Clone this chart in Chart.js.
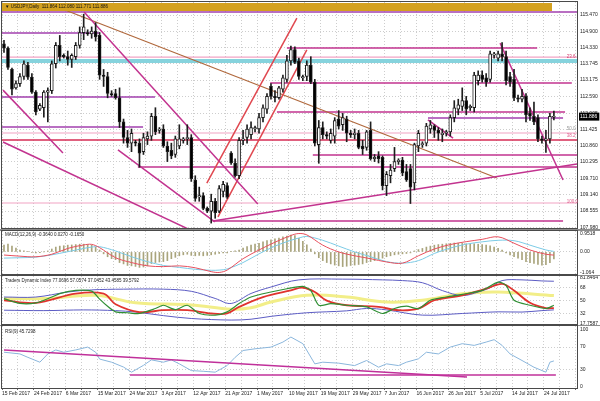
<!DOCTYPE html>
<html><head><meta charset="utf-8">
<script src="https://cdn.jsdelivr.net/npm/chart.js@4.4.1/dist/chart.umd.min.js"></script>
<style>
html,body{margin:0;padding:0;background:#fff;width:600px;height:401px;overflow:hidden}
canvas{position:absolute;left:0}
</style></head><body>
<canvas id="cMain" width="600" height="229" style="top:0px"></canvas>
<canvas id="cMacd" width="600" height="46" style="top:229px"></canvas>
<canvas id="cTdi" width="600" height="50" style="top:275px"></canvas>
<canvas id="cRsi" width="600" height="76" style="top:325px"></canvas>
<script>
// ---------- DATA ----------
const tickLabels = ['15 Feb 2017','24 Feb 2017','6 Mar 2017','15 Mar 2017','24 Mar 2017','3 Apr 2017','12 Apr 2017','21 Apr 2017','1 May 2017','10 May 2017','19 May 2017','29 May 2017','7 Jun 2017','16 Jun 2017','26 Jun 2017','5 Jul 2017','14 Jul 2017','24 Jul 2017'];

const openP = [114.45,114.30,113.55,112.90,113.05,113.30,113.70,113.28,112.75,112.15,
112.20,112.75,112.80,113.75,114.40,114.05,114.00,113.90,114.00,114.40,
114.85,114.85,114.80,114.90,114.75,113.35,113.30,112.70,112.70,112.55,
111.70,111.15,110.95,111.00,110.95,110.65,111.10,111.20,111.90,111.40,
111.45,110.85,110.70,110.55,110.85,111.05,111.10,111.15,109.65,109.05,
109.10,108.65,108.55,108.90,108.55,109.25,109.45,110.60,110.25,109.80,
111.05,111.15,111.25,111.45,111.45,111.85,112.15,112.95,112.60,112.55,
112.85,113.20,113.85,114.25,113.85,113.25,113.30,113.70,113.10,110.90,
111.50,111.25,111.05,111.20,111.80,111.60,111.80,111.30,111.25,111.30,
110.85,110.80,111.40,110.40,110.50,110.45,109.45,109.80,110.05,110.30,
110.35,109.95,110.05,109.55,110.85,110.90,110.95,111.45,111.55,111.40,
111.25,111.30,111.35,111.85,112.15,112.25,112.45,112.20,112.20,113.15,
113.35,113.25,113.20,114.05,113.95,114.10,114.00,113.30,113.20,112.55,
112.50,112.60,112.00,111.90,111.85,111.10,111.05,111.10,111.864];
const highP = [114.58,114.35,113.60,113.15,113.40,113.85,113.80,113.40,112.80,112.35,
112.80,112.90,113.85,114.50,114.75,114.10,114.20,114.10,114.50,115.05,
115.50,114.95,115.05,115.20,114.85,113.55,113.45,112.80,112.85,112.90,
111.80,111.40,111.45,111.05,111.10,111.30,111.35,112.00,112.20,111.50,
111.60,111.00,110.95,111.20,111.60,111.15,111.60,111.25,109.80,109.40,
109.20,108.70,109.15,109.00,109.45,109.60,109.55,110.65,110.40,111.15,
111.40,111.60,111.70,111.55,112.00,112.30,112.70,113.05,112.80,112.95,
113.35,114.05,114.37,114.35,113.95,113.35,113.85,114.00,113.20,111.75,
111.70,111.35,111.45,111.85,112.10,112.00,111.90,111.40,111.45,111.40,
111.05,111.40,111.70,110.55,110.65,110.50,109.95,110.20,110.80,110.40,
110.45,110.20,110.20,110.95,111.40,111.00,111.65,111.75,111.60,111.50,
111.45,111.40,111.95,112.45,112.50,112.90,112.60,112.30,113.45,113.50,
113.50,113.40,114.20,114.15,114.20,114.50,114.20,113.45,113.55,112.65,
112.85,112.70,112.20,112.40,111.95,111.20,111.40,112.00,112.080];
const lowP = [114.15,113.55,112.65,112.85,112.95,113.20,113.20,112.70,111.95,112.10,
111.87,111.70,112.70,113.60,113.85,113.95,113.70,113.62,113.90,114.30,
114.60,114.75,114.65,114.55,113.20,112.95,112.55,112.60,112.50,111.50,
110.95,110.80,110.65,110.85,110.10,110.55,110.90,111.05,111.25,111.30,
110.80,110.30,110.40,110.45,110.75,110.95,110.90,109.60,108.90,108.90,
108.60,108.50,108.13,108.30,108.50,109.05,109.00,110.20,109.75,109.70,
110.90,110.95,111.10,111.35,111.30,111.70,112.00,112.50,112.40,112.50,
112.75,113.10,113.70,113.75,113.20,113.15,113.15,113.05,110.85,110.24,
111.10,111.10,110.95,110.95,111.45,111.40,111.00,111.15,111.10,110.75,
110.55,110.70,110.35,110.30,110.25,109.30,109.10,109.55,109.95,110.20,
109.80,109.60,108.82,109.30,110.65,110.80,110.85,111.30,111.15,111.05,
111.00,111.20,111.20,111.70,111.95,112.10,111.95,112.10,112.05,113.00,
113.10,112.95,113.10,113.95,113.85,113.85,113.00,112.95,112.45,112.40,
112.40,111.70,111.75,111.60,111.00,110.95,110.62,110.95,111.771];
const closeP = [114.30,113.62,112.85,113.05,113.30,113.75,113.28,112.75,112.05,112.28,
112.75,112.80,113.75,114.40,114.00,114.00,113.90,114.05,114.40,114.85,
115.05,114.80,114.90,114.70,113.35,113.30,112.70,112.65,112.55,111.70,
111.15,110.95,111.30,110.95,110.60,111.15,111.20,111.90,111.35,111.45,
110.85,110.65,110.50,111.10,111.10,111.10,111.15,109.70,109.00,109.10,
108.65,108.55,108.90,108.50,109.35,109.50,109.05,110.25,109.80,111.05,
111.10,111.45,111.50,111.50,111.85,112.20,112.60,112.60,112.55,112.90,
113.25,113.85,114.25,113.80,113.30,113.30,113.70,113.10,110.95,111.50,
111.25,111.20,111.30,111.75,111.55,111.85,111.30,111.25,111.30,110.80,
110.75,111.35,110.40,110.45,110.40,109.45,109.85,110.00,110.30,110.35,
109.90,109.65,109.40,110.90,111.30,110.90,111.55,111.60,111.40,111.30,
111.30,111.35,111.85,112.20,112.30,112.45,112.15,112.25,113.35,113.35,
113.20,113.10,114.10,114.10,114.10,114.00,113.15,113.10,112.55,112.50,
112.60,111.95,111.90,111.70,111.10,111.05,111.10,111.90,111.886];

const currentPrice = 111.886;
const mainTickVals = [115.470,114.900,114.330,113.745,113.175,112.590,112.005,111.425,110.860,110.295,109.710,109.140,108.555,107.980];

// drawn levels: [price, fromBar, toBar]
const purpleLevels = [[115.576,-0.5,143.8],[114.835,-0.5,24.1],[112.578,-0.5,37.9],[111.837,106.4,140.3],[111.519,-0.5,34.9]];
const magentaLevels = [[114.306,71.0,133.8],[113.071,66.8,142.5],[112.048,68.5,140.8],[110.532,77.5,143.8],[110.109,33.6,143.8],[108.204,52.4,140.3]];
const pinkLevels = [[113.988,-0.5,143.8],[111.308,-0.5,143.8],[108.839,-0.5,143.8]];
const cyanLevels = [[113.883,-0.5,143.8],[113.812,-0.5,143.8]];
const crimsonLevels = [[111.060,-0.5,143.8]];
// trend lines: [bar1, price1, bar2, price2]
const magentaTrends = [[52.4,108.204,143.8,110.214],[-0.25,112.82,14.8,110.60],[-0.25,110.99,46.7,107.89],[20.1,115.576,63.7,108.80],[28.6,110.71,52.9,108.17],[124.5,114.48,140.3,109.65],[106.4,111.77,112.7,111.13]];
const redTrends = [[50.9,109.54,73.5,115.36],[53.7,108.35,76.0,114.24]];
const brownTrends = [[15.3,115.646,123.7,109.72]];
const fibText = ['23.6','50.0','38.2','100.0'];
const fibPrice = [113.99,111.45,111.20,108.87];

// MACD
const macdHist = [0.35,0.40,0.30,0.20,0.10,0.05,0.02,-0.03,-0.05,-0.04,0.00,
0.05,0.15,0.25,0.30,0.32,0.35,0.36,0.38,0.40,0.40,0.38,0.35,0.25,0.10,
-0.10,-0.25,-0.35,-0.40,-0.55,-0.62,-0.70,-0.72,-0.75,-0.80,-0.78,-0.72,-0.60,-0.55,-0.52,-0.50,-0.45,-0.35,-0.28,-0.20,
-0.15,-0.12,-0.18,-0.20,-0.18,-0.20,-0.18,-0.15,-0.12,-0.08,-0.05,-0.05,0.02,0.05,
0.10,0.20,0.28,0.35,0.40,0.45,0.52,0.58,0.62,0.68,0.72,0.78,0.82,0.87,0.85,0.70,0.55,0.36,
0.15,-0.10,-0.30,-0.45,-0.55,-0.62,-0.68,-0.72,-0.76,-0.74,-0.70,-0.68,-0.65,-0.62,-0.55,-0.50,-0.45,-0.40,-0.32,
-0.25,-0.20,-0.15,-0.12,-0.10,-0.08,-0.05,
0.05,0.12,0.18,0.25,0.30,0.35,0.38,0.40,0.42,0.44,0.46,0.45,0.44,0.42,0.40,0.42,0.40,0.38,0.35,0.32,0.25,0.18,0.10,
-0.05,-0.15,-0.25,-0.32,-0.40,-0.50,-0.55,-0.60,-0.65,-0.68,-0.66,-0.55,-0.36];
const macdIdx = [0,4,8,12,16,20,22,24,28,32,36,40,44,48,52,54,56,60,64,68,72,74,76,80,84,88,92,96,100,104,108,112,116,120,124,128,132,136,138];
const macdMain = [-0.16,-0.22,-0.25,-0.12,0.18,0.36,0.39,0.22,-0.30,-0.55,-0.72,-0.76,-0.72,-0.82,-1.02,-1.06,-0.94,-0.35,0.10,0.50,0.85,0.95,0.88,0.35,0.00,-0.20,-0.35,-0.52,-0.58,-0.20,0.15,0.38,0.53,0.65,0.78,0.45,0.10,-0.12,-0.165];
const macdSignal = [-0.32,-0.30,-0.27,-0.15,0.01,0.18,0.25,0.27,0.05,-0.25,-0.50,-0.70,-0.80,-0.90,-0.95,-0.94,-0.88,-0.55,-0.10,0.30,0.60,0.72,0.80,0.60,0.30,0.00,-0.25,-0.50,-0.58,-0.45,-0.08,0.20,0.40,0.52,0.60,0.58,0.35,0.10,0.027];
const macdTickVals = [0.9518,0,-1.064];
const macdTickText = ['0.9518','0.00','-1.064'];

// Traders Dynamic Index
const tdiGreenIdx = [0,4,8,12,14,18,22,24,26,28,31,34,38,40,43,46,49,53,56,59,62,67,71,75,77,79,82,86,91,95,98,101,104,107,111,115,120,124,126,128,132,136,138];
const tdiGreen = [52.8,46,46.8,55,59.7,64.3,63.3,52,42,34.3,33,32,38.9,43.5,37.5,43.5,32,29.7,34.3,45.8,55,62,66.6,69.8,64,43.5,45.8,43.5,41.2,32,38.9,42.2,38.9,50.5,55,58.8,64.3,75.8,71.2,50.5,43.5,39,43.46];
const tdiRedIdx = [0,8,18,25,28,34,40,46,52,56,59,65,72,75,78,81,86,94,99,104,108,115,121,125,128,132,136,138];
const tdiRed = [50.5,46.8,59.7,59.7,45,34,36.6,36.6,32,32,41.2,55,64.3,68,62,50,43.5,41.2,36.6,38.9,50.5,57.4,66.6,73.5,64,47,39.5,39.58];
const tdiUpIdx = [0,8,16,22,30,40,47,53,57,62,67,74,85,95,100,105,110,115,119,122,125,130,135,138];
const tdiUp = [55,55,62,65,66,66,63,53,46,60,69,79,80,79,78,75,64,57,62,68,78,79,77.5,77.07];
const tdiLowIdx = [0,10,20,28,33,40,47,57,62,67,76,86,91,96,105,115,124,130,135,138];
const tdiLow = [36.6,36,37,36,34,29,25,22.8,24,28,33,35.7,39,37,29.7,32,34.3,34,36,37.05];
const tdiBaseIdx = [0,10,23,33,47,57,62,67,76,86,96,105,115,124,138];
const tdiBase = [52.8,52.8,57.4,47,44,38,40,48,57.4,55,48,50.5,59.7,62,57.06];
const tdiTickVals = [81.8464,68,50,32,17.7587];
const tdiTickText = ['81.8464','68','50','32','17.7587'];

// RSI
const rsiIdx = [0,4,6,9,11,13,15,18,21,23,24,27,30,32,35,37,40,42,44,47,50,53,56,58,60,63,67,70,72,75,78,80,84,88,91,94,96,99,101,104,106,109,112,115,118,121,123,125,127,130,133,136,137,138];
const rsiVal = [61,58,52,43.5,58,65,61,65,70,61,49,43.5,35,26,38,47.6,43.5,47.6,40.6,28.8,27.6,26,37.6,52,64,67,70,78.8,87.6,76,40.6,43.5,41.8,37.6,46.5,34.7,40.6,37.6,43.5,49.4,61,58,70,76,73,78.8,83,73,58,46.5,34.7,26,43.5,45.73];
const rsiTrends = [[0,64.9,116.2,17.5],[31.6,21.1,138.5,21.1]];
const rsiTickVals = [100,70,30,0];
const rsiTickText = ['100','70','30','0'];

// ---------- RENDERING ----------
const FONT = "'Liberation Sans', 'DejaVu Sans', Arial, sans-serif";
const X_MIN = -0.5, X_MAX = 143.8, GRID_STEP = 4;
const GRID_COLOR = '#cdcdcd';
const candleIdx = openP.map((_, i) => i);
const pts = (idx, vals) => idx.map((x, k) => ({x, y: vals[k]}));

function xAxis(show) {
  return {
    type: 'linear', min: X_MIN, max: X_MAX, offset: false,
    afterBuildTicks: s => { const t = []; for (let v = X_MIN; v <= X_MAX + 1e-9; v += GRID_STEP) t.push({value: v}); s.ticks = t; },
    afterFit: s => { s.height = show ? 13 : 0; s.paddingLeft = 0; s.paddingRight = 0; s.paddingTop = 0; s.paddingBottom = 0; },
    grid: { offset: false, color: GRID_COLOR, lineWidth: 1, drawTicks: show, tickLength: 2, tickColor: '#666' },
    border: { display: false, dash: [1, 2] },
    ticks: { display: show, autoSkip: false, maxRotation: 0, minRotation: 0, align: 'start', padding: 1, color: '#222',
      font: { family: FONT, size: 5 },
      callback: (v, k) => (k % 2 === 0 && tickLabels[k / 2]) ? tickLabels[k / 2] : '' }
  };
}
function yAxis(min, max, vals, texts, gridVals, special) {
  const isSp = c => special && c.tick && c.tick.value === special;
  return {
    type: 'linear', position: 'right', min, max,
    afterBuildTicks: s => { s.ticks = vals.map(v => ({value: v})); },
    afterFit: s => { s.width = 23; s.paddingTop = 0; s.paddingBottom = 0; s.paddingLeft = 0; s.paddingRight = 0; },
    grid: { drawTicks: false, lineWidth: 1, color: c => (c.tick && gridVals.includes(c.tick.value)) ? GRID_COLOR : 'rgba(0,0,0,0)' },
    border: { display: false, dash: [1, 2] },
    ticks: { autoSkip: false, padding: 3, font: { family: FONT, size: 5 },
      color: c => isSp(c) ? '#ffffff' : '#222',
      showLabelBackdrop: c => isSp(c),
      backdropColor: '#000', backdropPadding: { top: 1, bottom: 1, left: 1, right: 2 },
      callback: (v, k) => texts[k] }
  };
}
function makeDeco(cfg) {
  return {
    id: 'deco',
    afterDraw(chart) {
      const {ctx, chartArea: a} = chart;
      ctx.save();
      if (cfg.sep) { ctx.fillStyle = '#8c8c8c'; ctx.fillRect(0, 0, chart.width, cfg.sep); }
      ctx.strokeStyle = '#4a4a4a'; ctx.lineWidth = 1;
      ctx.strokeRect(a.left - 0.5, a.top - 0.5, a.right - a.left + 1, a.bottom - a.top + 1);
      ctx.textBaseline = 'middle'; ctx.textAlign = 'left';
      ctx.font = '4.5px ' + FONT;
      if (cfg.header) {
        ctx.fillStyle = '#d4a11f';
        ctx.fillRect(a.left, 3, 550, 8);
        ctx.fillStyle = '#111';
        ctx.fillText(cfg.header, a.left + 3, 7);
      }
      if (cfg.label) { ctx.fillStyle = '#222'; ctx.fillText(cfg.label, a.left + 3, a.top + cfg.labelDy); }
      if (cfg.notes) {
        const xs = chart.scales.x, ys = chart.scales.y;
        cfg.notes.text.forEach((t, k) => {
          ctx.fillStyle = cfg.notes.colors[k];
          ctx.fillText(t, xs.getPixelForValue(cfg.notes.bar), ys.getPixelForValue(cfg.notes.values[k]));
        });
      }
      ctx.restore();
    }
  };
}
function makeChart(id, datasets, y, showX, deco, padding) {
  return new Chart(document.getElementById(id), {
    type: 'line',
    data: { datasets },
    options: {
      responsive: false, animation: false, devicePixelRatio: 1,
      layout: { padding },
      plugins: { legend: { display: false }, tooltip: { enabled: false } },
      elements: { point: { radius: 0, hoverRadius: 0 }, line: { tension: 0 } },
      scales: { x: xAxis(showX), y }
    },
    plugins: [makeDeco(deco)]
  });
}
const seg = (color, width, order) => (l) => ({ type: 'line', data: [{x: l[1], y: l[0]}, {x: l[2], y: l[0]}], borderColor: color, borderWidth: width, pointRadius: 0, order, fill: false });
const trend = (color, width, order) => (t) => ({ type: 'line', data: [{x: t[0], y: t[1]}, {x: t[2], y: t[3]}], borderColor: color, borderWidth: width, pointRadius: 0, order, fill: false });

// MAIN
const mainSets = [
  { type: 'bar', data: candleIdx.map(i => ({x: i, y: [openP[i], closeP[i]]})),
    backgroundColor: candleIdx.map(i => closeP[i] >= openP[i] ? '#ffffff' : '#000000'),
    borderColor: '#1e1e1e', borderWidth: 1, borderSkipped: false, barThickness: 3, minBarLength: 1, grouped: false, order: 0 },
  { type: 'bar', data: candleIdx.map(i => ({x: i, y: [lowP[i], highP[i]]})),
    backgroundColor: '#1e1e1e', barThickness: 1, grouped: false, order: 1 },
  ...magentaTrends.map(trend('#c2338f', 1.5, 3)),
  ...redTrends.map(trend('#e0474f', 1.5, 3)),
  ...brownTrends.map(trend('#b0683c', 1.2, 3)),
  ...purpleLevels.map(seg('#a23fae', 1.5, 4)),
  ...magentaLevels.map(seg('#c2338f', 1.5, 4)),
  ...crimsonLevels.map(seg('#d62c55', 1.5, 4)),
  ...pinkLevels.map(seg('#f1a3c4', 1.2, 5)),
  ...cyanLevels.map(seg('#86d3dd', 2, 5))
];
makeChart('cMain', mainSets,
  yAxis(107.957, 115.929, [...mainTickVals, currentPrice], [...mainTickVals.map(v => v.toFixed(3)), currentPrice.toFixed(3)], mainTickVals, currentPrice),
  false,
  { header: '\u25BC USDJPY,Daily  111.864 112.080 111.771 111.886',
    notes: { text: fibText, values: fibPrice, bar: 141.2, colors: ['#d2406e', '#9a9a9a', '#e0608e', '#e0608e'] } },
  { top: 2, bottom: 1, left: 2, right: 0 });

// MACD
makeChart('cMacd', [
  { type: 'line', data: pts(macdIdx, macdMain), borderColor: '#e8505e', borderWidth: 1, tension: 0.35, pointRadius: 0, order: 0 },
  { type: 'line', data: pts(macdIdx, macdSignal), borderColor: '#7ccbe6', borderWidth: 1, tension: 0.35, pointRadius: 0, order: 1 },
  { type: 'bar', data: candleIdx.map(i => ({x: i, y: macdHist[i]})), backgroundColor: '#a9a47c', barThickness: 1, grouped: false, order: 2 }
], yAxis(-1.1415, 1.081, macdTickVals, macdTickText, [0]), false,
  { sep: 2, label: 'MACD(12,26,9) -0.3640 0.0270 -0.1650', labelDy: 4 },
  { top: 2, bottom: 1, left: 2, right: 0 });

// TDI
makeChart('cTdi', [
  { type: 'line', data: pts(tdiGreenIdx, tdiGreen), borderColor: '#2f8f34', borderWidth: 1.2, tension: 0.25, pointRadius: 0, order: 0 },
  { type: 'line', data: pts(tdiRedIdx, tdiRed), borderColor: '#e0332e', borderWidth: 1.8, tension: 0.35, pointRadius: 0, order: 1 },
  { type: 'line', data: pts(tdiUpIdx, tdiUp), borderColor: '#5c5cc4', borderWidth: 1, tension: 0.35, pointRadius: 0, order: 2 },
  { type: 'line', data: pts(tdiLowIdx, tdiLow), borderColor: '#5c5cc4', borderWidth: 1, tension: 0.35, pointRadius: 0, order: 2 },
  { type: 'line', data: pts(tdiBaseIdx, tdiBase), borderColor: '#f2ee88', borderWidth: 3, tension: 0.35, pointRadius: 0, order: 3 }
], yAxis(17.3, 84.4, tdiTickVals, tdiTickText, [68, 50, 32]), false,
  { sep: 1, label: 'Traders Dynamic Index 77.0696 57.0574 37.0452 43.4585 39.5792', labelDy: 5 },
  { top: 1, bottom: 1, left: 2, right: 0 });

// RSI
makeChart('cRsi', [
  { type: 'line', data: pts(rsiIdx, rsiVal), borderColor: '#8ab6dc', borderWidth: 1, pointRadius: 0, order: 1 },
  ...rsiTrends.map(trend('#c0309a', 1.5, 0))
], yAxis(-1.75, 107.0, rsiTickVals, rsiTickText, [70, 30]), true,
  { sep: 1, label: 'RSI(9) 45.7298', labelDy: 6 },
  { top: 1, bottom: 0, left: 2, right: 0 });
</script>
</body></html>
